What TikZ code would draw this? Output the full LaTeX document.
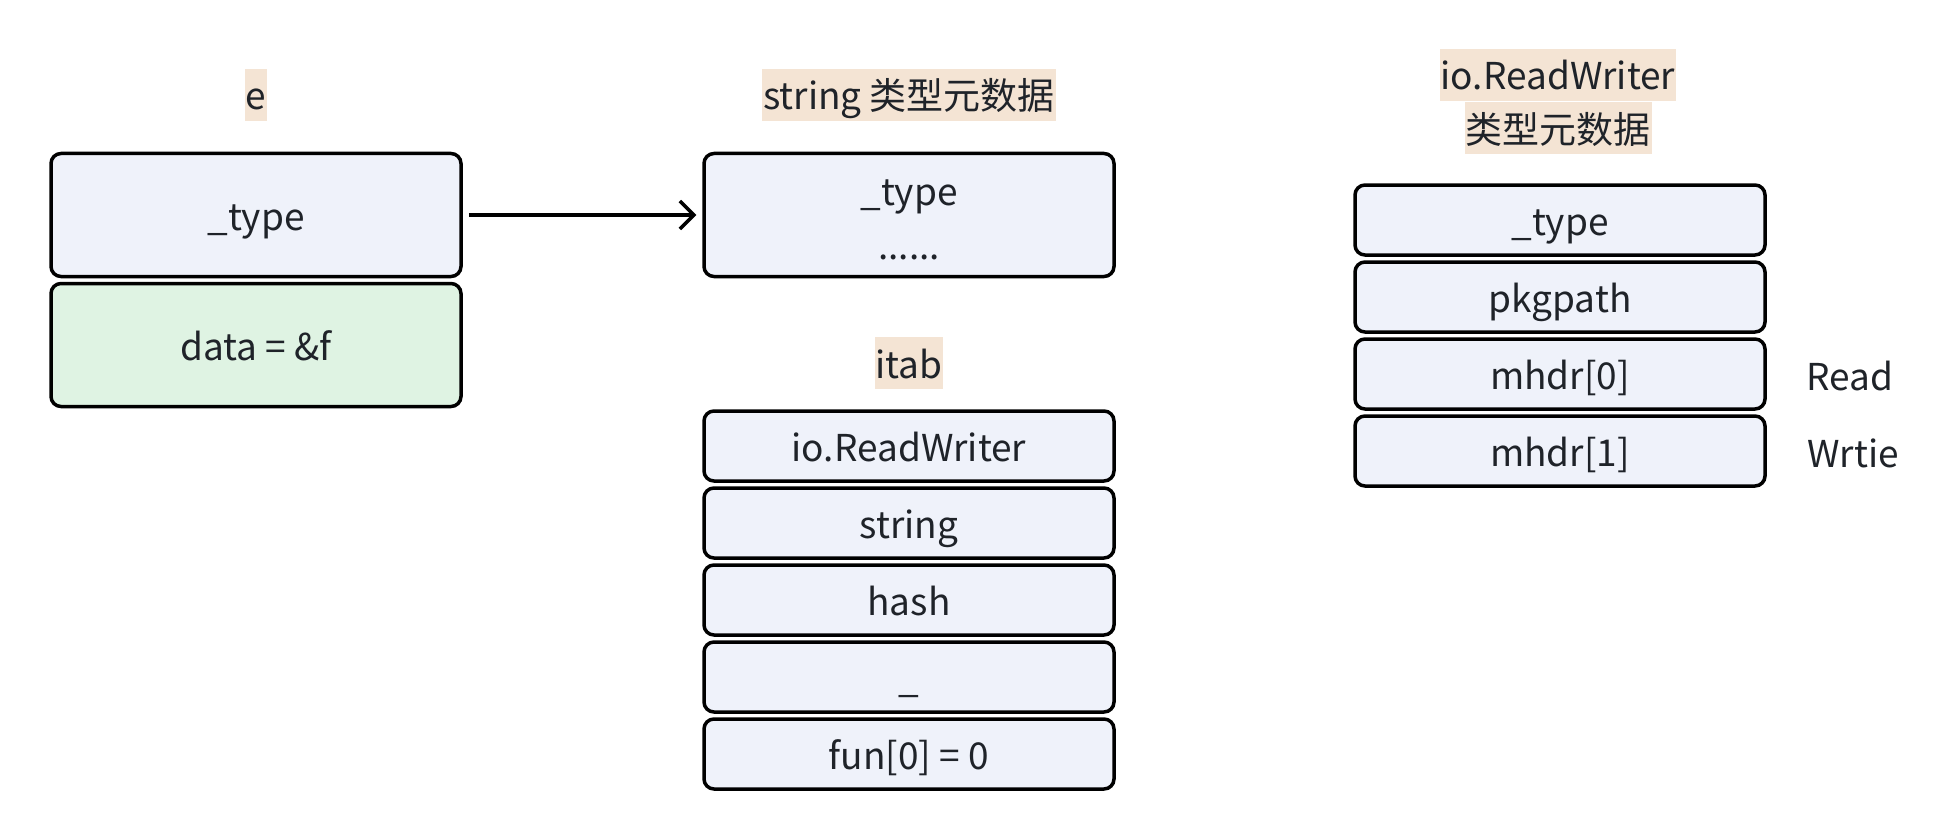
\documentclass[tikz,border=0pt]{standalone}
\usepackage{fontspec}
\setmainfont{Noto Sans CJK SC}
\usetikzlibrary{arrows.meta}
\definecolor{boxblue}{HTML}{EFF2FA}
\definecolor{boxgreen}{HTML}{DFF3E3}
\definecolor{hlcol}{HTML}{F4E4D4}
\definecolor{txt}{HTML}{1F2329}
\tikzset{
  cell/.style={draw=black, line width=3.5pt, rounded corners=10pt, fill=boxblue,
    minimum width=410pt, minimum height=70pt, inner sep=0pt,
    text height=31pt, text depth=1pt, text=txt, font=\fontsize{37}{44}\selectfont},
  tallcell/.style={cell, minimum height=123pt},
  hl/.style={fill=hlcol, inner xsep=1pt, inner ysep=0pt, text height=41pt, text depth=11pt,
    text=txt, font=\fontsize{37}{44}\selectfont, anchor=base},
  plain/.style={inner sep=0pt, text=txt, font=\fontsize{37}{44}\selectfont, anchor=base},
  arr/.style={line width=3.5pt, -{Straight Barb[length=14pt,width=28pt,line width=3.5pt]}}
}
\begin{document}
\begin{tikzpicture}[x=1pt,y=-1pt]
\useasboundingbox (0,0) rectangle (1946,840);
% e
\node[hl] (elab) at (256,110) {e};
\node[tallcell] (etype) at (256,215) {\_type};
\node[tallcell, fill=boxgreen] (edata) at (256,345) {data = \&f};
% string metadata
\node[hl] (strlab) at (909,110) {string 类型元数据};
\node[tallcell] (str) at (909,215) {};
\node[plain] (strtype) at (909,205) {\_type};
\node[plain] (strdots) at (909,259) {......};
\draw[arr] ([xshift=6pt]etype.east) -- ([xshift=-6pt]str.west);
% itab
\node[hl] (itablab) at (909,378) {itab};
\node[cell] (it1) at (909,446) {io.ReadWriter};
\node[cell] (it2) at (909,523) {string};
\node[cell] (it3) at (909,600) {hash};
\node[cell] (it4) at (909,677) {\_};
\node[cell] (it5) at (909,754) {fun[0] = 0};
% io.ReadWriter metadata
\node[hl] (iolab1) at (1558,90) {io.ReadWriter};
\node[hl] (iolab2) at (1558,143) {类型元数据};
\node[cell] (rw1) at (1560,220) {\_type};
\node[cell] (rw2) at (1560,297) {pkgpath};
\node[cell] (rw3) at (1560,374) {mhdr[0]};
\node[cell] (rw4) at (1560,451) {mhdr[1]};
\node[plain] (read) at (1850,390) {Read};
\node[plain] (write) at (1853,467) {Wrtie};
\end{tikzpicture}
\end{document}
